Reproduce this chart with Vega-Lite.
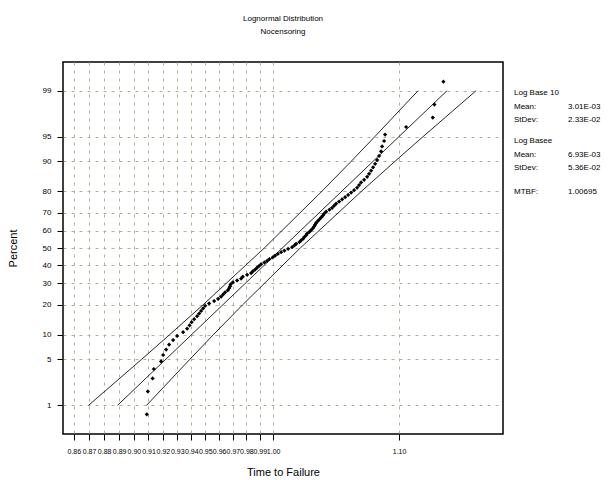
{
  "$schema": "https://vega.github.io/schema/vega-lite/v6.json",
  "padding": {"left": 6, "top": 14, "right": 8, "bottom": 0},
  "bounds": "flush",
  "spacing": 11,
  "config": {
    "font": "Liberation Sans",
    "view": {"stroke": "black", "strokeWidth": 1.5},
    "axis": {"labelFont": "Liberation Sans", "titleFont": "Liberation Sans", "labelColor": "black", "titleColor": "black", "titleFontWeight": "normal"}
  },
  "hconcat": [
    {
      "width": 440,
      "height": 372,
      "title": {"text": ["Lognormal Distribution", "Nocensoring"], "fontSize": 8, "fontWeight": "normal", "lineHeight": 13, "offset": 26, "anchor": "middle", "color": "black"},
      "layer": [
        {
          "data": {"name": "bands", "values": [
            {"band": "upper", "time": 0.86964, "z": -2.3263},
            {"band": "upper", "time": 0.90535, "z": -1.6449},
            {"band": "upper", "time": 0.92468, "z": -1.2816},
            {"band": "upper", "time": 0.94827, "z": -0.8416},
            {"band": "upper", "time": 0.99336, "z": 0},
            {"band": "upper", "time": 1.03777, "z": 0.8416},
            {"band": "upper", "time": 1.06088, "z": 1.2816},
            {"band": "upper", "time": 1.07991, "z": 1.6449},
            {"band": "upper", "time": 1.11597, "z": 2.3263},
            {"band": "fit", "time": 0.88893, "z": -2.3263},
            {"band": "fit", "time": 1.14072, "z": 2.3263},
            {"band": "lower", "time": 0.90866, "z": -2.3263},
            {"band": "lower", "time": 0.93899, "z": -1.6449},
            {"band": "lower", "time": 0.95584, "z": -1.2816},
            {"band": "lower", "time": 0.97711, "z": -0.8416},
            {"band": "lower", "time": 1.02079, "z": 0},
            {"band": "lower", "time": 1.06934, "z": 0.8416},
            {"band": "lower", "time": 1.09663, "z": 1.2816},
            {"band": "lower", "time": 1.12002, "z": 1.6449},
            {"band": "lower", "time": 1.16603, "z": 2.3263}
          ]},
          "mark": {"type": "line", "color": "#111111", "strokeWidth": 0.9},
          "encoding": {
            "x": {"field": "time", "type": "quantitative"},
            "y": {"field": "z", "type": "quantitative"},
            "detail": {"field": "band"},
            "order": {"field": "z", "type": "quantitative"}
          }
        },
        {
          "data": {"name": "failures", "values": [
            {"time": 0.90886, "z": -2.459}, {"time": 0.90955, "z": -2.121}, {"time": 0.91285, "z": -1.928}, {"time": 0.91369, "z": -1.789}, {"time": 0.91874, "z": -1.677},
            {"time": 0.92014, "z": -1.582}, {"time": 0.92223, "z": -1.501}, {"time": 0.92433, "z": -1.428}, {"time": 0.92712, "z": -1.362}, {"time": 0.92994, "z": -1.301},
            {"time": 0.93416, "z": -1.245}, {"time": 0.93700, "z": -1.193}, {"time": 0.93877, "z": -1.143}, {"time": 0.94019, "z": -1.096}, {"time": 0.94197, "z": -1.052},
            {"time": 0.94411, "z": -1.009}, {"time": 0.94555, "z": -0.969}, {"time": 0.94697, "z": -0.930}, {"time": 0.94841, "z": -0.892}, {"time": 0.94985, "z": -0.855},
            {"time": 0.95273, "z": -0.820}, {"time": 0.95635, "z": -0.785}, {"time": 0.95923, "z": -0.752}, {"time": 0.96141, "z": -0.719}, {"time": 0.96287, "z": -0.687},
            {"time": 0.96433, "z": -0.656}, {"time": 0.96630, "z": -0.625}, {"time": 0.96726, "z": -0.595}, {"time": 0.96798, "z": -0.566}, {"time": 0.96835, "z": -0.537},
            {"time": 0.96997, "z": -0.508}, {"time": 0.97313, "z": -0.480}, {"time": 0.97608, "z": -0.452}, {"time": 0.97733, "z": -0.425}, {"time": 0.98052, "z": -0.397},
            {"time": 0.98349, "z": -0.371}, {"time": 0.98476, "z": -0.344}, {"time": 0.98647, "z": -0.318}, {"time": 0.98797, "z": -0.291}, {"time": 0.98947, "z": -0.266},
            {"time": 0.99096, "z": -0.240}, {"time": 0.99344, "z": -0.214}, {"time": 0.99547, "z": -0.189}, {"time": 0.99720, "z": -0.163}, {"time": 0.99977, "z": -0.138},
            {"time": 1.00151, "z": -0.113}, {"time": 1.00356, "z": -0.0875}, {"time": 1.00607, "z": -0.0624}, {"time": 1.00859, "z": -0.0375}, {"time": 1.01141, "z": -0.0125},
            {"time": 1.01448, "z": 0.0125}, {"time": 1.01625, "z": 0.0375}, {"time": 1.01755, "z": 0.0624}, {"time": 1.02010, "z": 0.0875}, {"time": 1.02142, "z": 0.113},
            {"time": 1.02296, "z": 0.138}, {"time": 1.02396, "z": 0.163}, {"time": 1.02528, "z": 0.189}, {"time": 1.02606, "z": 0.214}, {"time": 1.02785, "z": 0.240},
            {"time": 1.02917, "z": 0.266}, {"time": 1.03050, "z": 0.291}, {"time": 1.03151, "z": 0.318}, {"time": 1.03229, "z": 0.344}, {"time": 1.03308, "z": 0.371},
            {"time": 1.03424, "z": 0.397}, {"time": 1.03565, "z": 0.425}, {"time": 1.03699, "z": 0.452}, {"time": 1.03833, "z": 0.480}, {"time": 1.03934, "z": 0.508},
            {"time": 1.04092, "z": 0.537}, {"time": 1.04352, "z": 0.566}, {"time": 1.04565, "z": 0.595}, {"time": 1.04724, "z": 0.625}, {"time": 1.04882, "z": 0.656},
            {"time": 1.05121, "z": 0.687}, {"time": 1.05360, "z": 0.719}, {"time": 1.05599, "z": 0.752}, {"time": 1.05839, "z": 0.785}, {"time": 1.06080, "z": 0.820},
            {"time": 1.06321, "z": 0.855}, {"time": 1.06562, "z": 0.892}, {"time": 1.06723, "z": 0.930}, {"time": 1.06886, "z": 0.969}, {"time": 1.07129, "z": 1.009},
            {"time": 1.07372, "z": 1.052}, {"time": 1.07534, "z": 1.096}, {"time": 1.07697, "z": 1.143}, {"time": 1.07861, "z": 1.193}, {"time": 1.08024, "z": 1.245},
            {"time": 1.08187, "z": 1.301}, {"time": 1.08351, "z": 1.362}, {"time": 1.08515, "z": 1.428}, {"time": 1.08598, "z": 1.501}, {"time": 1.08762, "z": 1.582},
            {"time": 1.08845, "z": 1.677}, {"time": 1.10588, "z": 1.789}, {"time": 1.12844, "z": 1.928}, {"time": 1.12981, "z": 2.121}, {"time": 1.13753, "z": 2.459}
          ]},
          "mark": {"type": "point", "shape": "diamond", "filled": true, "size": 18, "color": "black", "opacity": 1},
          "encoding": {
            "x": {
              "field": "time", "type": "quantitative",
              "scale": {"type": "log", "domain": [0.853, 1.19], "nice": false},
              "axis": {
                "title": "Time to Failure", "titleFontSize": 11, "titlePadding": 12,
                "values": [0.86, 0.87, 0.88, 0.89, 0.9, 0.91, 0.92, 0.93, 0.94, 0.95, 0.96, 0.97, 0.98, 0.99, 1.0, 1.1],
                "tickCount": 40,
                "format": ".2f", "labelFontSize": 7, "labelOverlap": false, "labelFlush": false, "labelPadding": 7,
                "tickSize": 6, "tickColor": "black", "domain": false,
                "grid": true, "gridColor": "#b4ae94", "gridDash": [3, 5], "gridWidth": 1
              }
            },
            "y": {
              "field": "z", "type": "quantitative",
              "scale": {"domain": [-2.75, 2.75], "nice": false, "zero": false},
              "axis": {
                "title": "Percent", "titleFontSize": 11, "titleX": -50, "titleY": 186, "titleAngle": -90, "titleAlign": "center", "titleBaseline": "middle",
                "values": [-2.3263, -1.6449, -1.2816, -0.8416, -0.5244, -0.2533, 0, 0.2533, 0.5244, 0.8416, 1.2816, 1.6449, 2.3263],
                "tickCount": 40,
                "labelExpr": "format(cumulativeNormal(datum.value) * 100, '.0f')",
                "labelFontSize": 8, "labelPadding": 6, "labelOverlap": false,
                "tickSize": 6, "tickColor": "black", "domain": false,
                "grid": true, "gridColor": "#b4ae94", "gridDash": [3, 5], "gridWidth": 1
              }
            }
          }
        }
      ]
    },
    {
      "width": 54,
      "height": 372,
      "view": {"stroke": null},
      "data": {"name": "stats", "values": [
        {"col": "label", "line": 1, "text": "Log Base 10"},
        {"col": "label", "line": 2, "text": "Mean:"},
        {"col": "value", "line": 2, "text": "3.01E-03"},
        {"col": "label", "line": 3, "text": "StDev:"},
        {"col": "value", "line": 3, "text": "2.33E-02"},
        {"col": "label", "line": 4.5, "text": "Log Basee"},
        {"col": "label", "line": 5.5, "text": "Mean:"},
        {"col": "value", "line": 5.5, "text": "6.93E-03"},
        {"col": "label", "line": 6.5, "text": "StDev:"},
        {"col": "value", "line": 6.5, "text": "5.36E-02"},
        {"col": "label", "line": 8.2, "text": "MTBF:"},
        {"col": "value", "line": 8.2, "text": "1.00695"}
      ]},
      "mark": {"type": "text", "align": "left", "baseline": "middle", "fontSize": 8, "color": "black"},
      "encoding": {
        "x": {"field": "col", "type": "nominal", "scale": {"type": "point", "domain": ["label", "value"], "padding": 0}, "axis": null},
        "y": {"field": "line", "type": "quantitative", "scale": {"domain": [-1.27, 25.93], "reverse": true, "nice": false, "zero": false}, "axis": null},
        "text": {"field": "text"}
      }
    }
  ]
}
